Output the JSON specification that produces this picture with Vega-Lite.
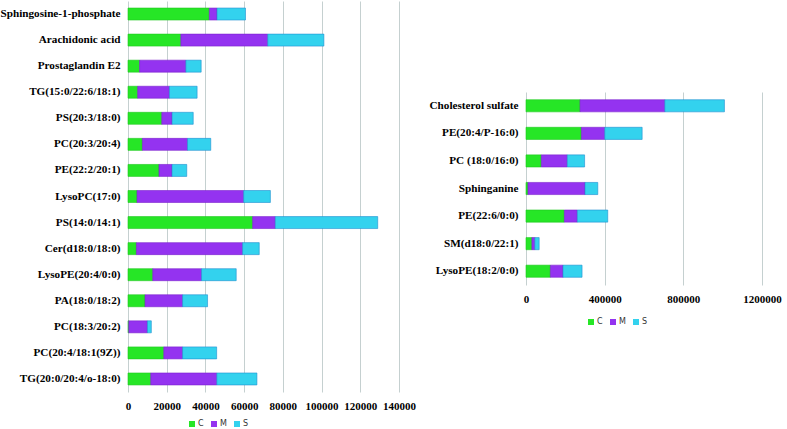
{
  "$schema": "https://vega.github.io/schema/vega-lite/v6.json",
  "padding": {"left": 0, "top": 1, "right": 5, "bottom": 0},
  "background": "white",
  "center": true,
  "spacing": 13,
  "datasets": {
    "left": [
      {"compound": "Sphingosine-1-phosphate", "group": "C", "value": 42000},
      {"compound": "Sphingosine-1-phosphate", "group": "M", "value": 4000},
      {"compound": "Sphingosine-1-phosphate", "group": "S", "value": 14700},
      {"compound": "Arachidonic acid", "group": "C", "value": 27300},
      {"compound": "Arachidonic acid", "group": "M", "value": 44900},
      {"compound": "Arachidonic acid", "group": "S", "value": 29000},
      {"compound": "Prostaglandin E2", "group": "C", "value": 6000},
      {"compound": "Prostaglandin E2", "group": "M", "value": 23900},
      {"compound": "Prostaglandin E2", "group": "S", "value": 7900},
      {"compound": "TG(15:0/22:6/18:1)", "group": "C", "value": 5000},
      {"compound": "TG(15:0/22:6/18:1)", "group": "M", "value": 16400},
      {"compound": "TG(15:0/22:6/18:1)", "group": "S", "value": 14300},
      {"compound": "PS(20:3/18:0)", "group": "C", "value": 17450},
      {"compound": "PS(20:3/18:0)", "group": "M", "value": 5350},
      {"compound": "PS(20:3/18:0)", "group": "S", "value": 10900},
      {"compound": "PC(20:3/20:4)", "group": "C", "value": 7450},
      {"compound": "PC(20:3/20:4)", "group": "M", "value": 23300},
      {"compound": "PC(20:3/20:4)", "group": "S", "value": 12000},
      {"compound": "PE(22:2/20:1)", "group": "C", "value": 16000},
      {"compound": "PE(22:2/20:1)", "group": "M", "value": 6750},
      {"compound": "PE(22:2/20:1)", "group": "S", "value": 7600},
      {"compound": "LysoPC(17:0)", "group": "C", "value": 4660},
      {"compound": "LysoPC(17:0)", "group": "M", "value": 55100},
      {"compound": "LysoPC(17:0)", "group": "S", "value": 13800},
      {"compound": "PS(14:0/14:1)", "group": "C", "value": 64400},
      {"compound": "PS(14:0/14:1)", "group": "M", "value": 11700},
      {"compound": "PS(14:0/14:1)", "group": "S", "value": 52900},
      {"compound": "Cer(d18:0/18:0)", "group": "C", "value": 4350},
      {"compound": "Cer(d18:0/18:0)", "group": "M", "value": 54850},
      {"compound": "Cer(d18:0/18:0)", "group": "S", "value": 8600},
      {"compound": "LysoPE(20:4/0:0)", "group": "C", "value": 12800},
      {"compound": "LysoPE(20:4/0:0)", "group": "M", "value": 25200},
      {"compound": "LysoPE(20:4/0:0)", "group": "S", "value": 17900},
      {"compound": "PA(18:0/18:2)", "group": "C", "value": 8800},
      {"compound": "PA(18:0/18:2)", "group": "M", "value": 19400},
      {"compound": "PA(18:0/18:2)", "group": "S", "value": 12900},
      {"compound": "PC(18:3/20:2)", "group": "C", "value": 400},
      {"compound": "PC(18:3/20:2)", "group": "M", "value": 9650},
      {"compound": "PC(18:3/20:2)", "group": "S", "value": 2000},
      {"compound": "PC(20:4/18:1(9Z))", "group": "C", "value": 18500},
      {"compound": "PC(20:4/18:1(9Z))", "group": "M", "value": 9700},
      {"compound": "PC(20:4/18:1(9Z))", "group": "S", "value": 17600},
      {"compound": "TG(20:0/20:4/o-18:0)", "group": "C", "value": 11750},
      {"compound": "TG(20:0/20:4/o-18:0)", "group": "M", "value": 34150},
      {"compound": "TG(20:0/20:4/o-18:0)", "group": "S", "value": 20700}
    ],
    "right": [
      {"compound": "Cholesterol sulfate", "group": "C", "value": 275000},
      {"compound": "Cholesterol sulfate", "group": "M", "value": 431000},
      {"compound": "Cholesterol sulfate", "group": "S", "value": 303000},
      {"compound": "PE(20:4/P-16:0)", "group": "C", "value": 281600},
      {"compound": "PE(20:4/P-16:0)", "group": "M", "value": 119000},
      {"compound": "PE(20:4/P-16:0)", "group": "S", "value": 190000},
      {"compound": "PC (18:0/16:0)", "group": "C", "value": 78000},
      {"compound": "PC (18:0/16:0)", "group": "M", "value": 132000},
      {"compound": "PC (18:0/16:0)", "group": "S", "value": 88000},
      {"compound": "Sphinganine", "group": "C", "value": 10000},
      {"compound": "Sphinganine", "group": "M", "value": 290000},
      {"compound": "Sphinganine", "group": "S", "value": 65000},
      {"compound": "PE(22:6/0:0)", "group": "C", "value": 195000},
      {"compound": "PE(22:6/0:0)", "group": "M", "value": 66000},
      {"compound": "PE(22:6/0:0)", "group": "S", "value": 154600},
      {"compound": "SM(d18:0/22:1)", "group": "C", "value": 30000},
      {"compound": "SM(d18:0/22:1)", "group": "M", "value": 15000},
      {"compound": "SM(d18:0/22:1)", "group": "S", "value": 22000},
      {"compound": "LysoPE(18:2/0:0)", "group": "C", "value": 124000},
      {"compound": "LysoPE(18:2/0:0)", "group": "M", "value": 64000},
      {"compound": "LysoPE(18:2/0:0)", "group": "S", "value": 97000}
    ]
  },
  "hconcat": [
    {
      "width": 271,
      "height": 391,
      "data": {"name": "left"},
      "mark": {"type": "bar", "strokeWidth": 0.6},
      "encoding": {
        "y": {"field": "compound", "type": "nominal", "sort": null, "title": null,
              "scale": {"paddingInner": 0.54, "paddingOuter": 0.27}},
        "x": {"field": "value", "type": "quantitative", "stack": "zero", "title": null,
              "scale": {"domain": [0, 140000], "nice": false},
              "axis": {"values": [0, 20000, 40000, 60000, 80000, 100000, 120000, 140000], "format": "d"}},
        "color": {"field": "group", "type": "nominal", "title": null,
                  "scale": {"domain": ["C", "M", "S"], "range": ["#26e626", "#9433f0", "#33d2ee"]},
                  "legend": {"orient": "none", "legendX": 60, "legendY": 419}},
        "stroke": {"field": "group", "type": "nominal", "legend": null,
                   "scale": {"domain": ["C", "M", "S"], "range": ["#20c820", "#7a22cc", "#1f8fd0"]}}
      }
    },
    {
      "width": 236,
      "height": 193,
      "data": {"name": "right"},
      "mark": {"type": "bar", "strokeWidth": 0.6},
      "encoding": {
        "y": {"field": "compound", "type": "nominal", "sort": null, "title": null,
              "scale": {"paddingInner": 0.56, "paddingOuter": 0.28}},
        "x": {"field": "value", "type": "quantitative", "stack": "zero", "title": " ",
              "scale": {"domain": [0, 1200000], "nice": false},
              "axis": {"values": [0, 400000, 800000, 1200000], "format": "d", "titlePadding": 23, "titleFontSize": 10}},
        "color": {"field": "group", "type": "nominal", "title": null,
                  "scale": {"domain": ["C", "M", "S"], "range": ["#26e626", "#9433f0", "#33d2ee"]},
                  "legend": {"orient": "none", "legendX": 61, "legendY": 226}},
        "stroke": {"field": "group", "type": "nominal", "legend": null,
                   "scale": {"domain": ["C", "M", "S"], "range": ["#20c820", "#7a22cc", "#1f8fd0"]}}
      }
    }
  ],
  "resolve": {"legend": {"color": "independent"}, "scale": {"x": "independent", "y": "independent", "color": "independent", "stroke": "independent"}},
  "config": {
    "view": {"stroke": null},
    "axisY": {"domain": false, "ticks": false, "grid": false, "labelFont": "Liberation Serif", "labelFontWeight": "bold", "labelFontSize": 11.2, "labelColor": "#000", "labelPadding": 8},
    "axisX": {"domain": false, "ticks": false, "grid": true, "gridColor": "#c5d0d0", "labelFont": "Liberation Serif", "labelFontWeight": "bold", "labelFontSize": 11, "labelColor": "#000", "labelPadding": 8, "labelOverlap": false, "labelFlush": false},
    "legend": {"direction": "horizontal", "symbolType": "square", "symbolSize": 36, "symbolStrokeWidth": 0, "labelFont": "DejaVu Sans", "labelFontSize": 8, "labelColor": "#333", "columnPadding": 6, "labelOffset": 2}
  }
}
